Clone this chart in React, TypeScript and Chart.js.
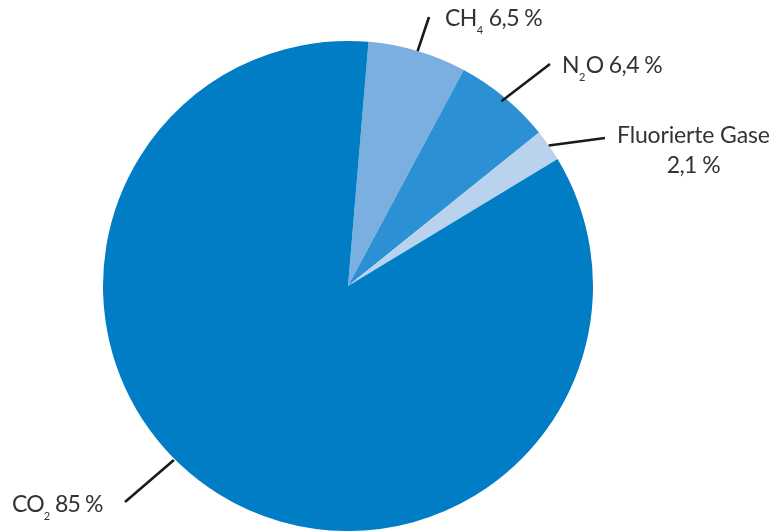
import React, { useEffect, useRef } from "react";
import { Chart, registerables } from "chart.js";

Chart.register(...registerables);

const categories = ["CH4", "N2O", "Fluorierte Gase", "CO2"];
const shares = [6.5, 6.4, 2.1, 85];
const shareLabels = ["6,5 %", "6,4 %", "2,1 %", "85 %"];
const colors = ["#7aafdf", "#2b91d4", "#b9d3ef", "#007dc4"];

type Part = { t: string; sub?: boolean };
const labelParts: Part[][] = [
  [{ t: "CH" }, { t: "4", sub: true }, { t: " 6,5 %" }],
  [{ t: "N" }, { t: "2", sub: true }, { t: "O 6,4 %" }],
  [{ t: "Fluorierte Gase" }],
  [{ t: "CO" }, { t: "2", sub: true }, { t: " 85 %" }],
];

const FONT = "Lato, 'Open Sans', sans-serif";
const MAIN = 23;
const SUB = 11;

// label layout (pixel offsets relative to pie centre)
const labelLayout = [
  { angle: null as number | null, r0: 1.0, end: [81, -269], text: [97, -260], ls: -0.6 },
  { angle: null as number | null, r0: 0.98, end: [202, -222], text: [214, -213], ls: -0.6 },
  { angle: null as number | null, r0: 1.0, end: [257, -148], text: [269, -143], ls: -0.15 },
  { angle: 225, r0: 1.005, end: [-223, 216], text: [-336, 226], ls: -0.9 },
];

const labelPlugin = {
  id: "leaderLabels",
  afterDatasetsDraw(chart: any) {
    const ctx = chart.ctx;
    const meta = chart.getDatasetMeta(0);
    ctx.save();
    meta.data.forEach((arc: any, i: number) => {
      const { x, y, startAngle, endAngle, outerRadius } = arc.getProps(
        ["x", "y", "startAngle", "endAngle", "outerRadius"],
        true
      );
      const L = labelLayout[i];
      const a =
        L.angle === null ? (startAngle + endAngle) / 2 : ((L.angle - 90) * Math.PI) / 180;
      const sx = x + Math.cos(a) * outerRadius * L.r0;
      const sy = y + Math.sin(a) * outerRadius * L.r0;
      ctx.strokeStyle = "#1a1a1a";
      ctx.lineWidth = 2.6;
      ctx.beginPath();
      ctx.moveTo(sx, sy);
      ctx.lineTo(x + L.end[0], y + L.end[1]);
      ctx.stroke();

      ctx.fillStyle = "#333333";
      ctx.textBaseline = "alphabetic";
      ctx.textAlign = "left";
      (ctx as any).letterSpacing = `${L.ls}px`;
      let tx = x + L.text[0];
      const ty = y + L.text[1];
      const parts = labelParts[i];
      parts.forEach((p) => {
        ctx.font = `${p.sub ? SUB : MAIN}px ${FONT}`;
        ctx.fillText(p.t, tx, p.sub ? ty + 8 : ty);
        tx += ctx.measureText(p.t).width + (p.sub ? 1 : 0);
      });
      if (i === 2) {
        ctx.font = `${MAIN}px ${FONT}`;
        const w = ctx.measureText(categories[2]).width;
        const cx = x + L.text[0] + w / 2;
        ctx.textAlign = "center";
        (ctx as any).letterSpacing = "-0.6px";
        ctx.fillText(shareLabels[2], cx, ty + 30);
      }
    });
    ctx.restore();
  },
};

export default function App() {
  const ref = useRef<HTMLCanvasElement | null>(null);
  useEffect(() => {
    document.body.style.margin = "0";
    const canvas = ref.current!;
    const chart = new Chart(canvas, {
      type: "pie",
      data: {
        labels: categories,
        datasets: [
          {
            data: shares,
            backgroundColor: colors,
            borderWidth: 0,
          },
        ],
      },
      options: {
        responsive: false,
        animation: false,
        rotation: 4.8,
        layout: { padding: { left: 103, right: 185, top: 41, bottom: 0 } },
        plugins: {
          legend: { display: false },
          tooltip: { enabled: false },
        },
      },
      plugins: [labelPlugin],
    });
    return () => chart.destroy();
  }, []);
  return (
    <div style={{ width: 778, height: 531, background: "#fff" }}>
      <canvas ref={ref} width={778} height={531} style={{ display: "block" }} />
    </div>
  );
}
